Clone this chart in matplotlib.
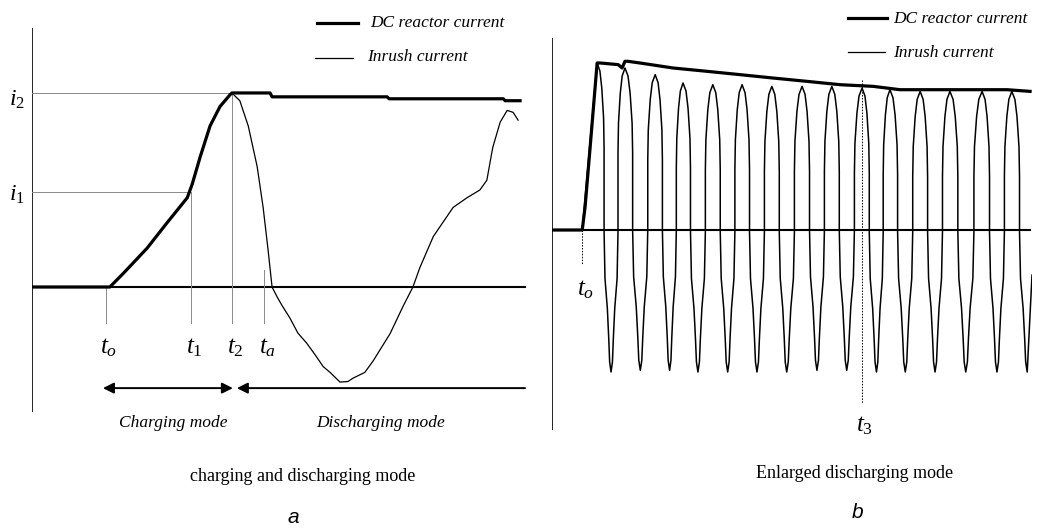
import matplotlib
matplotlib.use("Agg")
import matplotlib.pyplot as plt
import numpy as np

plt.rcParams['mathtext.fontset'] = 'custom'
plt.rcParams['mathtext.it'] = 'Liberation Serif:italic'
plt.rcParams['mathtext.rm'] = 'Liberation Serif'
plt.rcParams['font.family'] = ['Liberation Serif', 'DejaVu Serif']

# ---------------- Panel a data (time in arbitrary units, current normalised to i2) ----------
dc_a_t = [0, 14.9, 15.7, 18.4, 23.2, 27.2, 31.3, 32.3, 33.9, 35.9, 37.9, 39.9, 40.3,
          48.0, 48.4, 71.6, 72.0, 95.0, 95.4, 98.4]
dc_a_i = [0, 0, 0, 0.07, 0.20, 0.33, 0.46, 0.53, 0.67, 0.83, 0.93, 0.99, 1.0,
          1.0, 0.98, 0.98, 0.97, 0.97, 0.96, 0.96]
inrush_a_t = [40.3, 40.5, 41.9, 43.6, 45.4, 46.6, 47.6, 48.4, 49.4, 50.4, 52.0, 53.6, 55.4,
              57.1, 58.7, 60.1, 62.1, 63.7, 64.7, 67.1, 68.8, 72.2, 74.8, 76.8, 78.2, 80.9,
              84.9, 87.7, 90.3, 91.7, 92.9, 94.4, 95.8, 97.0, 98.0]
inrush_a_i = [1.0, 0.995, 0.96, 0.83, 0.62, 0.41, 0.19, 0.0, -0.05, -0.095, -0.16, -0.237,
              -0.29, -0.35, -0.41, -0.44, -0.49, -0.487, -0.47, -0.44, -0.38, -0.24, -0.10,
              0.0, 0.10, 0.26, 0.41, 0.46, 0.50, 0.55, 0.72, 0.85, 0.91, 0.90, 0.86]
time_marks_a = [14.9, 32.1, 40.3, 46.8]
time_labels_a = [r'$t_{\mathit{o}}$', r'$t_{\mathit{1}}$', r'$t_{\mathit{2}}$', r'$t_{\mathit{a}}$']
i1_level = 0.49
i2_level = 1.0

# ---------------- Panel b data ----------------
dc_b_t = [0, 6.3, 6.9, 7.9, 9.0, 9.4, 10.0, 13.8, 14.6, 15.2, 15.8, 18.3, 25.2, 32.3,
          39.2, 46.0, 53.1, 60.0, 66.9, 72.5, 80.8, 87.7, 94.8, 99.6]
dc_b_i = [0, 0, 0.14, 0.48, 0.86, 1.0, 1.0, 0.99, 0.97, 1.01, 1.01, 1.0, 0.97, 0.95,
          0.93, 0.91, 0.89, 0.87, 0.86, 0.84, 0.84, 0.84, 0.84, 0.83]
peak_b_t = [9.4, 15.2, 21.5, 27.3, 33.5, 39.6, 45.8, 52.1, 58.3, 64.6, 70.4, 76.7, 82.9, 89.6, 95.8]
peak_b_i = [1.0, 0.97, 0.93, 0.88, 0.87, 0.87, 0.86, 0.86, 0.86, 0.85, 0.84, 0.83, 0.83, 0.83, 0.83]
trough_b_t = [12.3, 18.4, 24.5, 30.4, 36.6, 42.7, 48.9, 55.2, 61.4, 67.6, 73.6, 79.8, 86.2, 92.7, 99.0]
trough_b_i = [-0.85, -0.84, -0.84, -0.85, -0.85, -0.85, -0.85, -0.84, -0.84, -0.85, -0.85,
              -0.85, -0.85, -0.85, -0.85]
# shape of one finger (fraction of the half-gap, drop from extremum)
peak_shape_frac = [0.4, 0.67, 0.93, 1.0]
peak_shape_drop = [0.048, 0.15, 0.33, 0.51]
trough_shape_frac = [0.2, 0.33, 0.53, 0.87, 1.0]
trough_shape_rise = [0.06, 0.20, 0.38, 0.56, 0.84]
inrush_b_start = (6.3, 0.0)
inrush_b_end = (100.0, -0.27)
t0_b = 6.3
t3_b = 64.6

fig = plt.figure(figsize=(10.53, 5.29), dpi=100)

THICK = 2.3
THIN = 0.9
GUIDE = '#8a8a8a'

# ===================== Panel a =====================
axa = fig.add_axes([32 / 1053, 0, 496 / 1053, 1])
axa.set_xlim(0, 100)
axa.set_ylim(-1.247, 1.479)
axa.axis('off')

axa.plot([0, 0], [-0.644, 1.335], color='black', lw=1.2, solid_capstyle='butt')
axa.plot([0, 99.4], [0, 0], color='black', lw=1.5)
axa.plot([0, time_marks_a[2]], [i2_level, i2_level], color=GUIDE, lw=0.7)
axa.plot([0, time_marks_a[1]], [i1_level, i1_level], color=GUIDE, lw=0.7)
axa.plot([time_marks_a[0]] * 2, [0, -0.186], color=GUIDE, lw=0.7)
axa.plot([time_marks_a[1]] * 2, [i1_level, -0.186], color=GUIDE, lw=0.7)
axa.plot([time_marks_a[2]] * 2, [i2_level, -0.186], color=GUIDE, lw=0.7)
axa.plot([time_marks_a[3]] * 2, [0.088, -0.186], color=GUIDE, lw=0.7)

axa.plot(inrush_a_t, inrush_a_i, color='black', lw=THIN, solid_joinstyle='round')
axa.plot(dc_a_t, dc_a_i, color='black', lw=THICK, solid_joinstyle='round')

for x, lab in zip(time_marks_a, time_labels_a):
    axa.text(x + 0.6, -0.315, lab, ha='center', va='center', fontsize=18)
axa.text(-3.0, 0.965, r'$i_{\mathit{2}}$', ha='center', va='center', fontsize=17)
axa.text(-3.0, 0.475, r'$i_{\mathit{1}}$', ha='center', va='center', fontsize=17)

arr_y = -0.521
axa.annotate('', xy=(14.3, arr_y), xytext=(40.5, arr_y),
             arrowprops=dict(arrowstyle='<|-|>', color='black', lw=1.4,
                             mutation_scale=16, shrinkA=0, shrinkB=0))
axa.annotate('', xy=(41.3, arr_y), xytext=(99.4, arr_y),
             arrowprops=dict(arrowstyle='-|>', color='black', lw=1.4,
                             mutation_scale=16, shrinkA=0, shrinkB=0))
axa.text(28.4, -0.70, 'Charging mode', ha='center', va='center', fontsize=12.5, style='italic')
axa.text(70.2, -0.70, 'Discharging mode', ha='center', va='center', fontsize=12.5, style='italic')
axa.text(54.6, -0.975, 'charging and discharging mode', ha='center', va='center', fontsize=13)
axa.text(52.6, -1.19, 'a', ha='center', va='center', fontsize=15, style='italic',
         family=['Liberation Sans', 'DejaVu Sans'])

axa.plot([57.5, 65.7], [1.361, 1.361], color='black', lw=THICK)
axa.text(68.1, 1.361, 'DC reactor current', ha='left', va='center', fontsize=12.5, style='italic')
axa.plot([57.1, 64.7], [1.180, 1.180], color='black', lw=THIN)
axa.text(67.5, 1.185, 'Inrush current', ha='left', va='center', fontsize=12.5, style='italic')

# ===================== Panel b =====================
axb = fig.add_axes([552 / 1053, 0, 480 / 1053, 1])
axb.set_xlim(0, 100)
axb.set_ylim(-1.790, 1.377)
axb.axis('off')

axb.plot([0, 0], [-1.198, 1.15], color='black', lw=1.2, solid_capstyle='butt')
axb.plot([0, 99.6], [0, 0], color='black', lw=1.5)

# build the oscillation: extremes with the finger shape
ext_t, ext_i, kinds = [], [], []
for pt, pi, tt, ti in zip(peak_b_t, peak_b_i, trough_b_t, trough_b_i):
    ext_t += [pt, tt]
    ext_i += [pi, ti]
    kinds += ['p', 't']
osc_t = [inrush_b_start[0]]
osc_i = [inrush_b_start[1]]
for k, (et, ei, kind) in enumerate(zip(ext_t, ext_i, kinds)):
    prev_gap = (et - ext_t[k - 1]) / 2 if k > 0 else None
    next_gap = (ext_t[k + 1] - et) / 2 if k + 1 < len(ext_t) else (inrush_b_end[0] - et)
    frac = peak_shape_frac if kind == 'p' else trough_shape_frac
    dv = peak_shape_drop if kind == 'p' else [-r for r in trough_shape_rise]
    if prev_gap is not None:
        for f, d in zip(frac[::-1], dv[::-1]):
            osc_t.append(et - f * prev_gap)
            osc_i.append(ei - d)
    osc_t.append(et)
    osc_i.append(ei)
    if k + 1 < len(ext_t):
        for f, d in zip(frac, dv):
            osc_t.append(et + f * next_gap)
            osc_i.append(ei - d)
osc_t.append(inrush_b_end[0])
osc_i.append(inrush_b_end[1])
axb.plot(osc_t, osc_i, color='black', lw=1.1, solid_joinstyle='round')

axb.plot(dc_b_t, dc_b_i, color='black', lw=THICK, solid_joinstyle='round')

axb.plot([t0_b, t0_b], [0, -0.21], color='black', lw=0.7, ls=(0, (1.5, 1.5)))
axb.plot([t3_b, t3_b], [0.898, -1.036], color='black', lw=0.7, ls=(0, (1.5, 1.5)))
axb.text(t0_b + 0.6, -0.36, r'$t_{\mathit{o}}$', ha='center', va='center', fontsize=18)
axb.text(t3_b + 0.6, -1.17, r'$t_{\mathit{3}}$', ha='center', va='center', fontsize=18)

axb.text(63.1, -1.455, 'Enlarged discharging mode', ha='center', va='center', fontsize=13)
axb.text(63.75, -1.69, 'b', ha='center', va='center', fontsize=15, style='italic',
         family=['Liberation Sans', 'DejaVu Sans'])

axb.plot([61.7, 69.8], [1.269, 1.269], color='black', lw=THICK)
axb.text(71.0, 1.262, 'DC reactor current', ha='left', va='center', fontsize=12.5, style='italic')
axb.plot([61.7, 69.4], [1.066, 1.066], color='black', lw=THIN)
axb.text(71.0, 1.06, 'Inrush current', ha='left', va='center', fontsize=12.5, style='italic')

fig.savefig('out.png', dpi=100)
